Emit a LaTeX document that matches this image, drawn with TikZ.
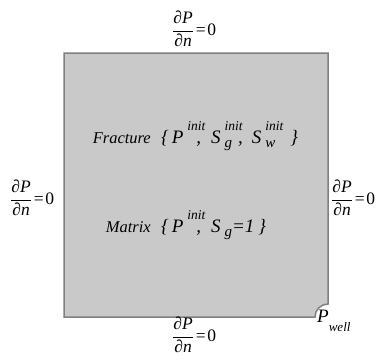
\documentclass[tikz,border=0pt]{standalone}
\usepackage{fontspec}
\setmainfont{Liberation Serif}
\newcommand\supfont{\fontsize{13.5}{14}\selectfont\itshape}
\newcommand\sbfont{\fontsize{15}{16}\selectfont\itshape}
\newcommand\SupSub[3]{#1\kern4pt\rlap{\raisebox{13pt}{\supfont #2}}{\sbfont\raisebox{-4pt}{#3}}}
\newcommand\dpdn{$\displaystyle\frac{\hbox{\itshape ∂P}}{\hbox{\itshape ∂n}}$\kern2pt=\kern1.5pt0}
\tikzset{
  bc/.style={inner sep=0pt, font=\fontsize{17.5}{20}\selectfont},
  word/.style={inner sep=0pt, font=\fontsize{16.5}{18}\selectfont\itshape},
  setx/.style={inner sep=0pt, font=\fontsize{19}{21}\selectfont\itshape},
  regionbox/.style={fill=black!21, draw=black!50, line width=1.5pt}
}
\begin{document}
\begin{tikzpicture}[x=1pt,y=-1pt]
\useasboundingbox (0,0) rectangle (380,362);
\clip (0,0) rectangle (380,362);
\draw[regionbox] (64,53) -- (328,53) -- (328,304) .. controls (320.8,304) and (315,309.8) .. (315,317) -- (64,317) -- cycle;
\node[bc, anchor=west] (top) at (172,29) {\dpdn};
\node[bc, anchor=west] (bottom) at (172,335) {\dpdn};
\node[bc, anchor=west] (left) at (10,198) {\dpdn};
\node[bc, anchor=west] (right) at (331,198) {\dpdn};
\node[word, anchor=base east] (frac) at (151,143) {Fracture};
\node[setx, anchor=base west] (fracset) at (161,143) {\{\kern3pt\SupSub{P}{init}{}\kern9pt,\kern10pt\SupSub{S}{init}{g}\kern6pt,\kern9pt\SupSub{S}{init}{w}\kern15pt\}};
\node[word, anchor=base east] (mat) at (151,232) {Matrix};
\node[setx, anchor=base west] (matset) at (161,232) {\{\kern3pt\SupSub{P}{init}{}\kern9pt,\kern10pt\SupSub{S}{}{g}=1\kern4pt\}};
\node[setx, anchor=base west] (pwell) at (317,322) {P{\fontsize{13}{14}\selectfont\raisebox{-9pt}{well}}};
\end{tikzpicture}
\end{document}
